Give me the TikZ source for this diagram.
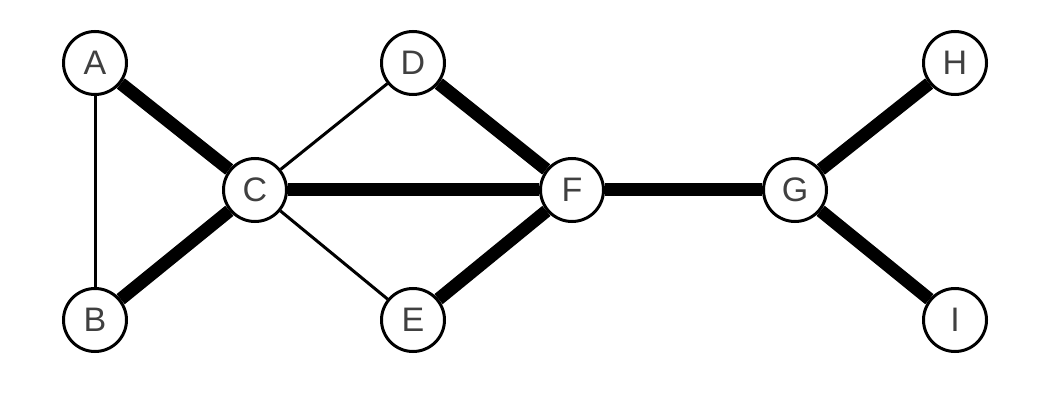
\documentclass[tikz,border=0pt]{standalone}
\usepackage{fontspec}
\setmainfont{Liberation Sans}
\tikzset{
  vertex/.style={circle,draw,fill=white,line width=3pt,minimum size=63pt,inner sep=0pt,
    text=black!75,font=\fontsize{34}{34}\selectfont},
  thin edge/.style={line width=3pt},
  thick edge/.style={line width=13pt}
}

\begin{document}
\begin{tikzpicture}[x=1pt,y=-1pt]
\useasboundingbox (0,0) rectangle (1038,406);
\node[vertex] (a) at (95,63) {A};
\node[vertex] (b) at (95,320) {B};
\node[vertex] (c) at (255,190) {C};
\node[vertex] (d) at (413,63) {D};
\node[vertex] (e) at (413,320) {E};
\node[vertex] (f) at (572,190) {F};
\node[vertex] (g) at (795,190) {G};
\node[vertex] (h) at (955,63) {H};
\node[vertex] (i) at (955,320) {I};
\draw[thin edge] (a) -- (b);
\draw[thick edge] (a) -- (c);
\draw[thick edge] (b) -- (c);
\draw[thin edge] (c) -- (d);
\draw[thin edge] (c) -- (e);
\draw[thick edge] (c) -- (f);
\draw[thick edge] (d) -- (f);
\draw[thick edge] (e) -- (f);
\draw[thick edge] (f) -- (g);
\draw[thick edge] (g) -- (h);
\draw[thick edge] (g) -- (i);
\end{tikzpicture}
\end{document}
